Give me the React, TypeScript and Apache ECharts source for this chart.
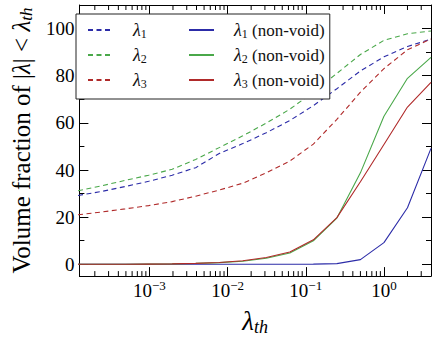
import React, { useEffect, useRef } from 'react';
import * as echarts from 'echarts';

// Thresholds λ_th (powers of two)
const xValues = [
  0.0001220703125, 0.000244140625, 0.00048828125, 0.0009765625, 0.001953125,
  0.00390625, 0.0078125, 0.015625, 0.03125, 0.0625, 0.125, 0.25, 0.5, 1, 2, 4,
];

// Volume fraction (%) of |λ| < λ_th
const lambda1 = [29.2, 30.9, 33.0, 35.2, 37.8, 41.0, 47.0, 51.2, 55.8, 61.0, 67.3, 74.5, 82.0, 88.0, 92.4, 95.5];
const lambda2 = [31.2, 33.3, 35.6, 37.8, 40.3, 44.5, 49.5, 54.5, 59.9, 65.8, 73.0, 81.0, 89.0, 95.0, 97.8, 99.0];
const lambda3 = [21.0, 22.2, 23.5, 24.9, 26.6, 28.9, 31.5, 34.4, 38.8, 43.8, 51.0, 61.5, 73.0, 83.0, 91.0, 95.6];
const lambda1NonVoid = [0, 0, 0, 0, 0, 0, 0, 0, 0, 0.05, 0.1, 0.3, 2.0, 9.2, 24.0, 49.2];
const lambda2NonVoid = [0, 0, 0, 0.1, 0.2, 0.4, 0.7, 1.3, 2.6, 4.8, 10.0, 19.6, 38.8, 62.8, 78.9, 87.8];
const lambda3NonVoid = [0, 0, 0, 0.1, 0.2, 0.4, 0.8, 1.5, 2.9, 5.2, 10.4, 19.8, 35.0, 50.8, 66.7, 77.2];

const dashedNames = ['λ1', 'λ2', 'λ3'];
const solidNames = ['λ1 (non-void)', 'λ2 (non-void)', 'λ3 (non-void)'];
const colors = ['#2c2ca8', '#4aa84a', '#b02a2a'];

// minor tick positions of the log x axis
const xMinorTicks = [
  0.0002, 0.0003, 0.0004, 0.0005, 0.0006, 0.0007, 0.0008, 0.0009,
  0.002, 0.003, 0.004, 0.005, 0.006, 0.007, 0.008, 0.009,
  0.02, 0.03, 0.04, 0.05, 0.06, 0.07, 0.08, 0.09,
  0.2, 0.3, 0.4, 0.5, 0.6, 0.7, 0.8, 0.9,
  2, 3,
];

const X_MIN = 0.000127;
const X_MAX = 4;
const Y_MIN = -5;
const Y_MAX = 110;

const FONT = 'Liberation Serif';

const legendFormatter = (name: string) => {
  const m = name.match(/^λ(\d)(.*)$/);
  if (!m) return name;
  return `{g|λ}{s|${m[1]}}` + (m[2] ? `{t|${m[2]}}` : '');
};

const legendText = {
  fontFamily: FONT,
  fontSize: 17,
  color: '#111',
  padding: [0, 0, 0, 15],
  rich: {
    g: { fontFamily: FONT, fontSize: 18, fontStyle: 'italic', lineHeight: 20, color: '#111' },
    s: { fontFamily: FONT, fontSize: 12, lineHeight: 12, padding: [8, 0, 0, 0], color: '#111' },
    t: { fontFamily: FONT, fontSize: 17, lineHeight: 20, color: '#111' },
  },
};

export default function App() {
  const ref = useRef<HTMLDivElement>(null);

  useEffect(() => {
    if (!ref.current) return;
    const chart = echarts.init(ref.current, null, { renderer: 'svg' });

    const pairs = (ys: number[]) => xValues.map((x, i) => [x, ys[i]]);
    const dashedData = [lambda1, lambda2, lambda3];
    const solidData = [lambda1NonVoid, lambda2NonVoid, lambda3NonVoid];

    const series: any[] = [];
    dashedNames.forEach((n, i) => {
      series.push({
        name: n,
        type: 'line',
        data: pairs(dashedData[i]),
        symbol: 'none',
        color: colors[i],
        lineStyle: { color: colors[i], width: 1.1, type: [5, 3.5] },
        z: 3,
      });
    });
    solidNames.forEach((n, i) => {
      series.push({
        name: n,
        type: 'line',
        data: pairs(solidData[i]),
        symbol: 'none',
        color: colors[i],
        lineStyle: { color: colors[i], width: 1.1, type: 'solid' },
        z: 3,
      });
    });
    series.push({
      type: 'custom',
      name: 'minorTicks',
      silent: true,
      clip: false,
      z: 5,
      data: xMinorTicks.map((v) => [v, 0]),
      renderItem: (params: any, api: any) => {
        const x = api.coord([api.value(0), 0])[0];
        const cs = params.coordSys;
        const top = cs.y;
        const bottom = cs.y + cs.height;
        return {
          type: 'group',
          children: [
            { type: 'line', shape: { x1: x, y1: bottom, x2: x, y2: bottom - 5 }, style: { stroke: '#000', lineWidth: 1 } },
            { type: 'line', shape: { x1: x, y1: top, x2: x, y2: top + 5 }, style: { stroke: '#000', lineWidth: 1 } },
          ],
        };
      },
    });

    const xLabelFormatter = (v: number) => {
      const l = Math.log10(v);
      const e = Math.round(l);
      if (Math.abs(l - e) > 1e-6) return '';
      return `{b|10}{s|${e < 0 ? '−' + -e : e}}`;
    };
    const yLabelFormatter = (v: number) => (v >= 0 && v <= 100 && Math.abs(v % 20) < 1e-6 ? String(v) : '');

    const axisLine = { show: true, onZero: false, lineStyle: { color: '#000', width: 1 } };

    chart.setOption({
      animation: false,
      textStyle: { fontFamily: FONT },
      grid: { left: 67, right: 5, top: 5, bottom: 54, containLabel: false },
      xAxis: [
        {
          type: 'log',
          min: X_MIN,
          max: X_MAX,
          position: 'bottom',
          axisLine,
          axisTick: { show: true, inside: true, length: 9, lineStyle: { color: '#000' } },
          splitLine: { show: false },
          axisLabel: {
            show: true,
            margin: 3,
            formatter: xLabelFormatter,
            showMinLabel: false,
            showMaxLabel: false,
            color: '#000',
            fontFamily: FONT,
            rich: {
              b: { fontFamily: FONT, fontSize: 19, lineHeight: 22, color: '#000' },
              s: { fontFamily: FONT, fontSize: 13, lineHeight: 13, padding: [0, 0, 9, 0], color: '#000' },
            },
          },
          name: '{g|λ}{s|th}',
          nameLocation: 'middle',
          nameGap: 20,
          nameTextStyle: {
            color: '#000',
            fontFamily: FONT,
            rich: {
              g: { fontFamily: FONT, fontSize: 27, fontStyle: 'italic', lineHeight: 28, color: '#000' },
              s: { fontFamily: FONT, fontSize: 18, fontStyle: 'italic', lineHeight: 18, padding: [12, 0, 0, 0], color: '#000' },
            },
          },
        },
        {
          type: 'log',
          min: X_MIN,
          max: X_MAX,
          position: 'top',
          axisLine,
          axisTick: { show: true, inside: true, length: 9, lineStyle: { color: '#000' } },
          splitLine: { show: false },
          axisLabel: { show: false },
        },
      ],
      yAxis: [
        {
          type: 'value',
          min: Y_MIN,
          max: Y_MAX,
          position: 'left',
          axisLine,
          axisTick: { show: true, inside: true, length: 9, lineStyle: { color: '#000' } },
          minorTick: { show: true, splitNumber: 2, length: 5, lineStyle: { color: '#000' } },
          splitLine: { show: false },
          axisLabel: {
            show: true,
            margin: 5,
            formatter: yLabelFormatter,
            fontFamily: FONT,
            fontSize: 19,
            color: '#000',
          },
          name: '{a|Volume fraction of |}{g|λ}{a|| < }{g|λ}{s|th}',
          nameLocation: 'middle',
          nameGap: 40,
          nameRotate: 90,
          nameTextStyle: {
            color: '#000',
            fontFamily: FONT,
            rich: {
              a: { fontFamily: FONT, fontSize: 25, lineHeight: 28, color: '#000' },
              g: { fontFamily: FONT, fontSize: 25, fontStyle: 'italic', lineHeight: 28, color: '#000' },
              s: { fontFamily: FONT, fontSize: 17, fontStyle: 'italic', lineHeight: 17, padding: [10, 0, 0, 0], color: '#000' },
            },
          },
        },
        {
          type: 'value',
          min: Y_MIN,
          max: Y_MAX,
          position: 'right',
          axisLine,
          axisTick: { show: true, inside: true, length: 9, lineStyle: { color: '#000' } },
          minorTick: { show: true, splitNumber: 2, length: 5, lineStyle: { color: '#000' } },
          splitLine: { show: false },
          axisLabel: { show: false },
        },
      ],
      legend: [
        {
          data: dashedNames,
          left: 76,
          top: 14,
          orient: 'vertical',
          itemGap: 5,
          itemWidth: 25,
          itemHeight: 14,
          padding: [6, 183, 9, 11],
          borderColor: '#222',
          borderWidth: 1,
          backgroundColor: '#fff',
          z: 6,
          itemStyle: { opacity: 0 },
          formatter: legendFormatter,
          textStyle: legendText,
        },
        {
          data: solidNames,
          left: 188,
          top: 20,
          orient: 'vertical',
          itemGap: 5,
          itemWidth: 25,
          itemHeight: 14,
          padding: 0,
          z: 7,
          itemStyle: { opacity: 0 },
          formatter: legendFormatter,
          textStyle: legendText,
        },
      ],
      series,
    });

    return () => chart.dispose();
  }, []);

  return (
    <div
      ref={ref}
      style={{ position: 'fixed', left: 0, top: 0, width: 436, height: 341, background: '#fff' }}
    />
  );
}
